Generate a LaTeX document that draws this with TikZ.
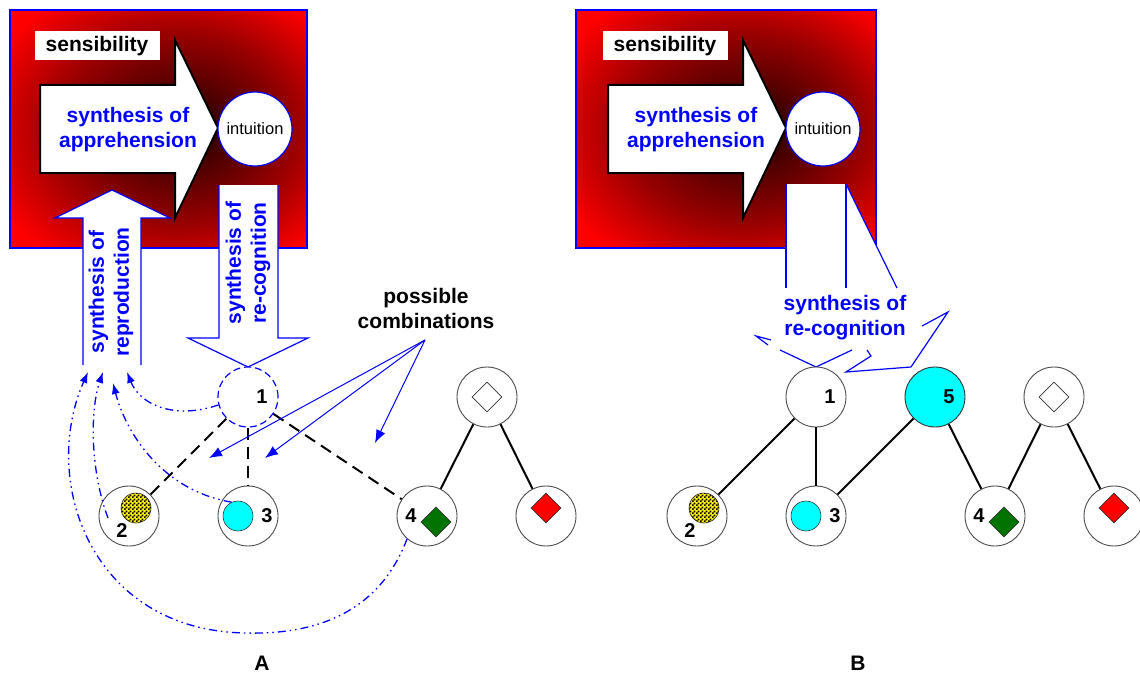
\documentclass[tikz,border=0pt]{standalone}
\usepackage{fontspec}
\setmainfont{Liberation Sans}
\usetikzlibrary{shapes.geometric, positioning, arrows.meta, patterns}

% dark glow behind the apprehension arrow
\pgfdeclareradialshading{glow}{\pgfpoint{5bp}{0bp}}{%
  color(0bp)=(black!90!red); color(8bp)=(red!30!black);
  color(20bp)=(red!60!black); color(33bp)=(red); color(50bp)=(red)}
% small black checks on the yellow dot
\pgfdeclarepatternformonly{finecheck}{\pgfpointorigin}{\pgfpoint{4pt}{4pt}}{\pgfpoint{4pt}{4pt}}{%
  \pgfpathrectangle{\pgfpointorigin}{\pgfpoint{2pt}{2pt}}%
  \pgfpathrectangle{\pgfpoint{2pt}{2pt}}{\pgfpoint{2pt}{2pt}}%
  \pgfusepath{fill}}
\definecolor{aqua}{RGB}{0,255,255}
\NewDocumentCommand{\heavy}{}{\fontsize{21}{25}\selectfont\bfseries}

\begin{document}
\begin{tikzpicture}[x=1pt, y=-1pt, node distance={119pt},
        main/.style = {draw=black!70, circle, fill=white, minimum size=60pt,
                        inner sep=0pt, line width=0.9pt},
        num/.style = {font=\fontsize{20}{24}\selectfont\bfseries, inner sep=0pt},
        blurb/.style = {text=blue, align=center, font=\heavy, inner sep=0pt},
        dot/.style = {draw=black!80, circle, minimum size=30pt, inner sep=0pt,
                        line width=0.6pt},
        gem/.style = {draw=black!80, diamond, minimum size=30pt, inner sep=0pt,
                        line width=0.6pt},
        tag/.style = {fill=white, minimum width=125pt, minimum height=29pt,
                        inner sep=0pt, font=\heavy},
        sense/.style = {draw=blue, circle, fill=white, minimum size=74pt,
                        inner sep=0pt, line width=1.2pt,
                        font=\fontsize{16.5}{20}\selectfont},
        tie/.style = {line width=2pt},
        maybe/.style = {line width=2pt, dash pattern=on 12pt off 7pt},
        rim/.style = {blue, line width=1.2pt},
        recall/.style = {blue, line width=1.3pt,
                        dash pattern=on 8pt off 4pt on 1.5pt off 4pt on 1.5pt off 4pt,
                        -{Latex[length=11pt, width=8pt]}},
        hint/.style = {blue, line width=1pt, -{Latex[length=13pt, width=10pt]}}]
    \useasboundingbox (0,0) rectangle (1140,674);

    % --- A ---
    \shadedraw[shading=glow, draw=blue, line width=1.8pt] (10,10) rectangle (307,248);
    \node[tag] (sensA) at (97,46) {sensibility};
    \draw[fill=white, line width=2pt] (40,85) -- (175,85) -- (175,40) -- (218,128)
        -- (175,218) -- (175,173) -- (40,173) -- cycle;
    \node[blurb] (apprA) at (128,130) {synthesis of\\apprehension};
    \node[sense] (intA) at (255,129) {intuition};

    \fill[white] (83,365) -- (83,218) -- (55,218) -- (112,190) -- (170,218)
        -- (141,218) -- (141,365) -- cycle;
    \draw[rim] (83,365) -- (83,218) -- (55,218) -- (112,190) -- (170,218)
        -- (141,218) -- (141,365);
    \node[blurb, rotate=90] (reprA) at (111,292) {synthesis of\\reproduction};

    \fill[white] (219,185) -- (278,185) -- (278,338) -- (308,338) -- (248,367)
        -- (188,338) -- (219,338) -- cycle;
    \draw[rim] (219,185) -- (219,338) -- (188,338) -- (248,367) -- (308,338)
        -- (278,338) -- (278,185);
    \node[blurb, rotate=90] (recogA) at (248,263) {synthesis of\\re-cognition};

    \node[main, draw=blue, line width=1.2pt, dash pattern=on 7pt off 4pt] (a1) at (248,397) {};
    \node[main] (a3) [below of=a1] {};
    \node[main] (a2) [left of=a3] {};
    \node[main] (a4) at (427,516) {};
    \node[main] (ar) [right of=a4] {};
    \node[main] (aw) at (487,397) {};

    \node[num, xshift=14pt] (a1n) at (a1) {1};
    \node[dot, fill=yellow, postaction={pattern=finecheck}, xshift=7pt, yshift=8pt] (a2d) at (a2) {};
    \node[num, xshift=-7pt, yshift=-15pt] (a2n) at (a2) {2};
    \node[dot, fill=aqua, xshift=-10pt] (a3d) at (a3) {};
    \node[num, xshift=19pt] (a3n) at (a3) {3};
    \node[num, xshift=-16pt] (a4n) at (a4) {4};
    \node[gem, fill=green!45!black, xshift=9pt, yshift=-6pt] (a4d) at (a4) {};
    \node[gem, fill=white] (awd) at (aw) {};
    \node[gem, fill=red, yshift=8pt] (ard) at (ar) {};

    \draw[maybe] (a1) -- (a2);
    \draw[maybe] (a1) -- (a3);
    \draw[maybe] (a1) -- (a4);
    \draw[tie] (aw) -- (a4);
    \draw[tie] (aw) -- (ar);

    \node[font=\heavy, align=center, inner sep=0pt] (combo) at (426,308) {possible\\combinations};
    \coordinate (pc) at (425,340);
    \coordinate (pc1) at (209,458);
    \coordinate (pc2) at (265,458);
    \coordinate (pc3) at (375,443);
    \draw[hint] (pc) -- (pc1);
    \draw[hint] (pc) -- (pc2);
    \draw[hint] (pc) -- (pc3);

    \coordinate (r1) at (88,372);
    \coordinate (r2) at (103,372);
    \coordinate (r3) at (113,383);
    \coordinate (r4) at (127,372);
    \coordinate (s2) at (108,518);
    \draw[recall] (a1.195) .. controls (175,420) and (140,405) .. (r4);
    \draw[recall] (a3d.115) .. controls (160,490) and (125,430) .. (r3);
    \draw[recall] (s2) .. controls (90,470) and (90,410) .. (r2);
    \draw[recall] (a4.229) .. controls (380,610) and (320,635) .. (245,633)
        .. controls (90,630) and (40,480) .. (r1);

    \node[font=\heavy] (capA) at (262,663) {A};

    % --- B ---
    \shadedraw[shading=glow, draw=blue, line width=1.8pt] (576,10) rectangle (876,248);
    \node[tag] (sensB) at (665,46) {sensibility};
    \draw[fill=white, line width=2pt] (608,85) -- (743,85) -- (743,40) -- (786,128)
        -- (743,218) -- (743,173) -- (608,173) -- cycle;
    \node[blurb] (apprB) at (696,130) {synthesis of\\apprehension};
    \node[sense] (intB) at (823,129) {intuition};

    \fill[white] (786,184) -- (846,184) -- (897,288) -- (786,288) -- cycle;
    \draw[rim] (786,184) -- (786,288);
    \draw[rim] (846,184) -- (846,288);
    \draw[rim] (846,184) -- (897,288);
    \node[blurb] (recogB) at (845,318) {synthesis of\\re-cognition};
    \draw[rim] (771,340) -- (756,336) -- (768,345);
    \draw[rim] (780,350) -- (816,367) -- (852,350);
    \draw[rim] (867,350) -- (871,356) -- (846,372) -- (911,367) -- (948,312) -- (922,326);

    \node[main] (b1) at (816,397) {};
    \node[main] (b3) [below of=b1] {};
    \node[main] (b2) [left of=b3] {};
    \node[main, fill=aqua, draw=black!80] (b5) [right of=b1] {};
    \node[main] (bw) [right of=b5] {};
    \node[main] (b4) at (995,516) {};
    \node[main] (br) [right of=b4] {};

    \node[num, xshift=14pt] (b1n) at (b1) {1};
    \node[num, xshift=14pt] (b5n) at (b5) {5};
    \node[dot, fill=yellow, postaction={pattern=finecheck}, xshift=7pt, yshift=8pt] (b2d) at (b2) {};
    \node[num, xshift=-7pt, yshift=-15pt] (b2n) at (b2) {2};
    \node[dot, fill=aqua, xshift=-10pt] (b3d) at (b3) {};
    \node[num, xshift=19pt] (b3n) at (b3) {3};
    \node[num, xshift=-16pt] (b4n) at (b4) {4};
    \node[gem, fill=green!45!black, xshift=9pt, yshift=-6pt] (b4d) at (b4) {};
    \node[gem, fill=white] (bwd) at (bw) {};
    \node[gem, fill=red, yshift=8pt] (brd) at (br) {};

    \draw[tie] (b1) -- (b2);
    \draw[tie] (b1) -- (b3);
    \draw[tie] (b5) -- (b3);
    \draw[tie] (b5) -- (b4);
    \draw[tie] (bw) -- (b4);
    \draw[tie] (bw) -- (br);

    \node[font=\heavy] (capB) at (858,663) {B};
\end{tikzpicture}
\end{document}
